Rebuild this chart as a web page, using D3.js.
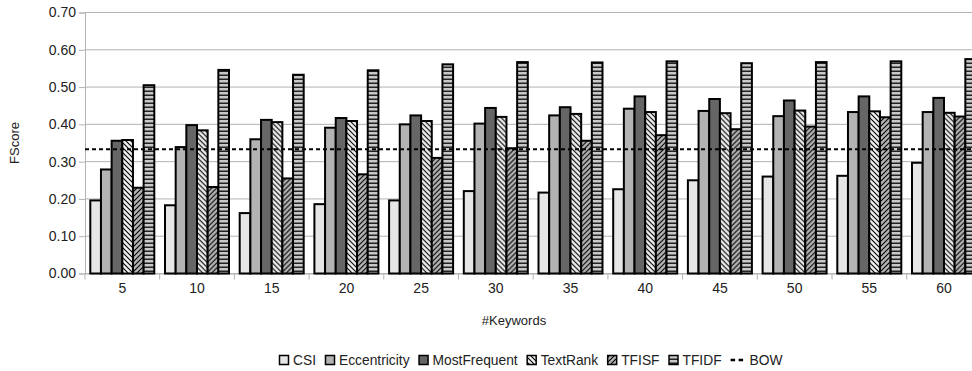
<!DOCTYPE html>
<html>
<head>
<meta charset="utf-8">
<script src="https://cdn.jsdelivr.net/npm/d3@7"></script>
<style>
  html, body { margin: 0; padding: 0; background: #fff; }
  svg { display: block; font-family: "Liberation Sans", Arial, sans-serif; }
</style>
</head>
<body>
<svg id="chart" width="972" height="371"></svg>
<script>
const categories = ["5","10","15","20","25","30","35","40","45","50","55","60"];
const seriesNames = ["CSI","Eccentricity","MostFrequent","TextRank","TFISF","TFIDF"];
const csi          = [0.196,0.183,0.162,0.186,0.196,0.221,0.217,0.226,0.250,0.260,0.262,0.297];
const eccentricity = [0.279,0.339,0.360,0.391,0.400,0.402,0.424,0.442,0.436,0.422,0.433,0.433];
const mostFrequent = [0.356,0.398,0.412,0.417,0.424,0.444,0.446,0.475,0.468,0.464,0.475,0.471];
const textRank     = [0.358,0.384,0.406,0.409,0.409,0.420,0.428,0.433,0.430,0.437,0.435,0.431];
const tfisf        = [0.230,0.232,0.255,0.266,0.310,0.336,0.356,0.371,0.387,0.394,0.419,0.421];
const tfidf        = [0.505,0.546,0.533,0.545,0.561,0.567,0.566,0.569,0.564,0.567,0.569,0.575];
const bow = 0.333;
const yTicks = [0,0.1,0.2,0.3,0.4,0.5,0.6,0.7];

const seriesValues = [csi, eccentricity, mostFrequent, textRank, tfisf, tfidf];
const fills = ["#e6e6e6","#b3b3b3","#666666","url(#pTR)","url(#pTFISF)","url(#pTFIDF)"];

const svg = d3.select("#chart");
const defs = svg.append("defs");

function hatch(id, bg, pathD, size, sw) {
  const p = defs.append("pattern").attr("id", id).attr("patternUnits","userSpaceOnUse")
    .attr("width", size).attr("height", size);
  p.append("rect").attr("width", size).attr("height", size).attr("fill", bg);
  p.append("path").attr("d", pathD).attr("stroke", "#000").attr("stroke-width", sw).attr("fill","none");
}
hatch("pTR", "#eeeeee", "M0,0 L5,5 M-1,4 L1,6 M4,-1 L6,1", 5, 1.1);
hatch("pTFISF", "#b3b3b3", "M0,5 L5,0 M-1,1 L1,-1 M4,6 L6,4", 5, 1.1);
(function(){
  const p = defs.append("pattern").attr("id","pTFIDF").attr("patternUnits","userSpaceOnUse")
    .attr("width", 8).attr("height", 4);
  p.append("rect").attr("width", 8).attr("height", 4).attr("fill", "#c8c8c8");
  p.append("rect").attr("y", 2.5).attr("width", 8).attr("height", 1.5).attr("fill", "#222");
})();

const mLeft = 85, mTop = 12.5, mBottom = 273.5, catW = 74.7;
const x = d3.scaleBand().domain(categories).range([mLeft, mLeft + catW * categories.length]).padding(0);
const x1 = d3.scaleBand().domain(seriesNames).range([5.3, catW - 5.4]).padding(0);
const y = d3.scaleLinear().domain([0, 0.7]).range([mBottom, mTop]);

svg.append("g").selectAll("line").data(yTicks).join("line")
  .attr("x1", mLeft).attr("x2", 972)
  .attr("y1", d => y(d)).attr("y2", d => y(d))
  .attr("stroke", "#b3b3b3").attr("stroke-width", 1);

const yAxis = svg.append("g").attr("transform", `translate(${mLeft},0)`)
  .call(d3.axisLeft(y).tickValues(yTicks).tickFormat(d3.format(".2f")).tickSize(6).tickPadding(3));
yAxis.select(".domain").attr("stroke", "#b3b3b3");
yAxis.selectAll(".tick line").attr("stroke", "#b3b3b3");
yAxis.selectAll("text").attr("font-size", 14).attr("fill", "#222").attr("font-family", "Liberation Sans, Arial, sans-serif");

const xAxis = svg.append("g").attr("transform", `translate(0,${mBottom})`)
  .call(d3.axisBottom(x).tickSize(0).tickPadding(10));
xAxis.select(".domain").attr("stroke", "#b3b3b3");
xAxis.selectAll("text").attr("font-size", 14).attr("fill", "#222").attr("font-family", "Liberation Sans, Arial, sans-serif");
svg.append("g").selectAll("line").data(d3.range(categories.length + 1)).join("line")
  .attr("x1", i => mLeft + i * catW).attr("x2", i => mLeft + i * catW)
  .attr("y1", mBottom).attr("y2", mBottom + 6)
  .attr("stroke", "#b3b3b3");

const groups = svg.append("g").selectAll("g").data(categories).join("g")
  .attr("transform", d => `translate(${x(d)},0)`);
groups.selectAll("rect").data((d, ci) => seriesNames.map((s, si) => ({s, si, v: seriesValues[si][ci]})))
  .join("rect")
  .attr("x", d => x1(d.s)).attr("width", x1.bandwidth())
  .attr("y", d => y(d.v)).attr("height", d => y(0) - y(d.v))
  .attr("fill", d => fills[d.si]).attr("stroke", "#000").attr("stroke-width", 2);

svg.append("line").attr("x1", mLeft).attr("x2", 972).attr("y1", y(bow)).attr("y2", y(bow))
  .attr("stroke", "#000").attr("stroke-width", 2).attr("stroke-dasharray", "4,3");

svg.append("text").attr("transform", `translate(19,${(mTop+mBottom)/2}) rotate(-90)`)
  .attr("text-anchor","middle").attr("font-size", 13).attr("fill","#222").text("FScore");
svg.append("text").attr("x", 514).attr("y", 325).attr("text-anchor","middle")
  .attr("font-size", 13).attr("fill","#222").text("#Keywords");

const legend = svg.append("g");
let lx = 279; const ly = 360;
seriesNames.forEach((name, i) => {
  legend.append("rect").attr("x", lx + 0.5).attr("y", ly - 4.5).attr("width", 9).attr("height", 9)
    .attr("fill", fills[i]).attr("stroke", "#000").attr("stroke-width", 1.5);
  const t = legend.append("text").attr("x", lx + 14).attr("y", ly + 5).attr("font-size", 13.8)
    .attr("fill","#222").text(name);
  lx += 14 + t.node().getComputedTextLength() + 9;
});
legend.append("line").attr("x1", lx).attr("x2", lx + 16).attr("y1", ly).attr("y2", ly)
  .attr("stroke","#000").attr("stroke-width", 2.5).attr("stroke-dasharray","4.5,3.5");
legend.append("text").attr("x", lx + 19).attr("y", ly + 5).attr("font-size", 13.8)
  .attr("fill","#222").text("BOW");
</script>
</body>
</html>
